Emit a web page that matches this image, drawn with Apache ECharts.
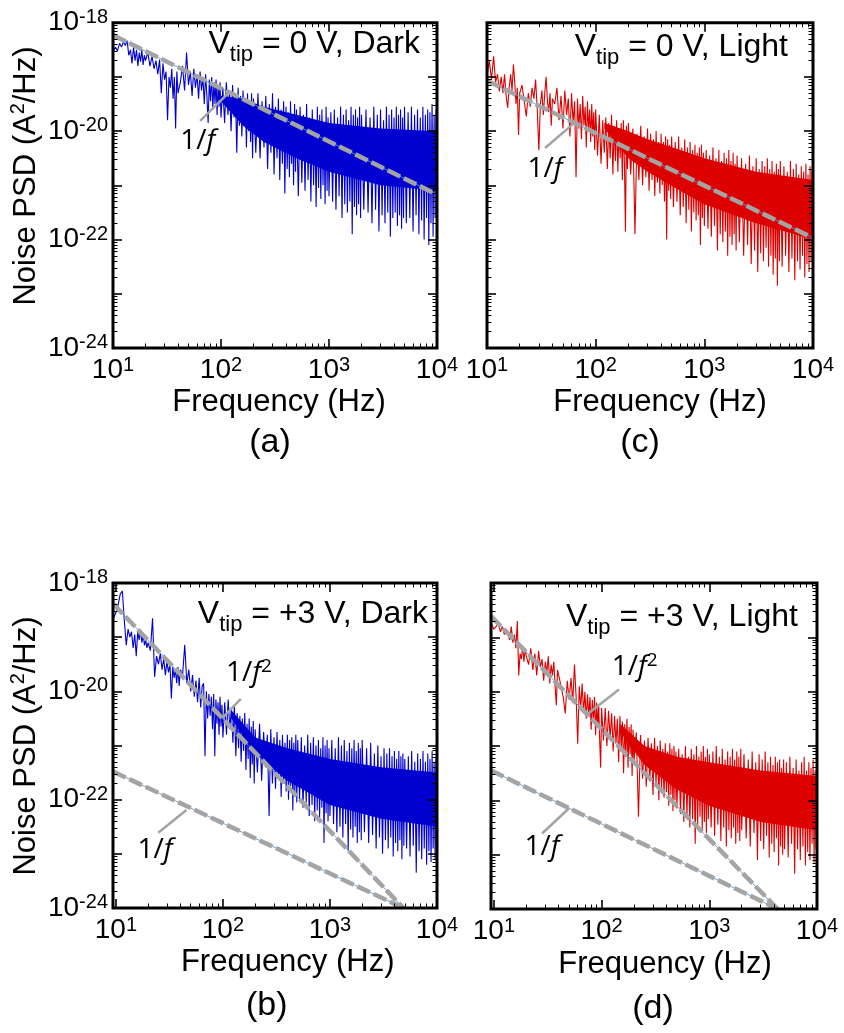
<!DOCTYPE html>
<html><head><meta charset="utf-8">
<script src="https://cdn.jsdelivr.net/npm/echarts@6/dist/echarts.min.js"></script>
<style>html,body{margin:0;padding:0;background:#fff}#c{width:844px;height:1033px}</style>
</head><body><div id="c"></div>
<script>
// ---------------- DATA ----------------
// Frequency bins (Hz) shared by the four spectra
const freqHz = [
  9,9.5,10,10.5,11,11.5,12,12.5,13,13.5,14,14.5,15,15.5,16,16.5,17,17.5,18,18.5,19,19.5,20,
  21,22,23,24,25,26,27,28,29,30,31,32,33,34,35,36,37,38,39,40,
  42,44,46,48,50,52,54,56,58,60,62,64,66,68,70,72,74,76,78,80,82,84,86,88,90,92,94,96,98,100,
  104,108,112,116,120,124,128,132,136,140,144,148,152,156,160,164,168,172,176,180,184,188,192,196,200,
  210,220,230,240,250,260,270,280,290,300,310,320,330,340,350,360,370,380,390,400,410,420,430,440,450,460,470,480,490,500,
  520,540,560,580,600,620,640,660,680,700,720,740,760,780,800,820,840,860,880,900,920,940,960,980,1000,
  1040,1080,1120,1160,1200,1240,1280,1320,1360,1400,1440,1480,1520,1560,1600,1640,1680,1720,1760,1800,1840,1880,1920,1960,2000,
  2100,2200,2300,2400,2500,2600,2700,2800,2900,3000,3100,3200,3300,3400,3500,3600,3700,3800,3900,4000,4100,4200,4300,4400,4500,4600,4700,4800,4900,5000,
  5200,5400,5600,5800,6000,6200,6400,6600,6800,7000,7200,7400,7600,7800,8000,8200,8400,8600,8800,9000,9200,9400,9600,9800,10000
];

// log10 of noise PSD (A^2/Hz) for each frequency bin
// (a) Vtip = 0 V, Dark
const logPsdDark0V = [
  -18.5,-18.4,-18.55,-18.45,-18.52,-18.38,-18.45,-18.35,-18.42,-18.33,-18.6,-18.5,-18.75,-18.45,-18.7,-18.5,-18.8,-18.55,-18.72,-18.5,-18.78,-18.6,-18.7,
  -18.55,-18.8,-18.62,-18.85,-18.7,-18.95,-18.68,-19.3,-18.75,-19.05,-18.9,-19.8,-19.0,-19.2,-18.85,-19.4,-19.0,-19.95,-18.9,-19.3,
  -19.1,-18.8,-19.25,-18.55,-19.15,-18.9,-19.35,-18.85,-19.2,-18.95,-19.4,-18.9,-19.25,-19.0,-19.5,-18.95,-19.35,-19.85,-19.05,-19.45,-19.0,-19.6,-19.1,-19.5,-19.05,-19.7,-19.15,-19.55,-19.1,-19.75,
  -19.2,-19.85,-19.1,-19.7,-19.25,-20.0,-19.15,-19.75,-19.3,-20.4,-19.2,-19.9,-19.35,-20.1,-19.25,-19.85,-19.4,-20.3,-19.3,-20.0,-19.45,-20.2,-19.3,-20.5,-19.4,
  -20.4,-19.3,-20.5,-19.45,-20.3,-19.35,-20.7,-19.5,-20.4,-19.3,-20.8,-19.55,-20.5,-19.4,-20.9,-19.6,-20.6,-19.45,-21.15,-19.55,-20.7,-19.65,-20.85,-19.45,-20.6,-19.7,-21.0,-19.5,-20.75,-19.6,
  -21.2,-19.55,-20.95,-19.7,-21.1,-19.5,-20.9,-19.75,-21.3,-19.6,-21.0,-19.8,-21.4,-19.55,-21.05,-19.7,-21.25,-19.6,-21.0,-19.85,-21.35,-19.55,-21.1,-19.75,-21.2,
  -19.65,-21.3,-19.6,-21.45,-19.75,-21.2,-19.55,-21.6,-19.7,-21.35,-19.6,-21.5,-19.8,-21.3,-19.55,-21.9,-19.7,-21.4,-19.6,-21.55,-19.75,-21.35,-19.55,-21.6,-19.7,
  -21.45,-19.6,-21.5,-19.75,-21.7,-19.55,-21.45,-19.7,-21.85,-19.6,-21.55,-19.8,-21.7,-19.55,-21.5,-19.7,-21.95,-19.6,-21.6,-19.75,-21.5,-19.55,-21.75,-19.7,-21.55,-19.6,-21.8,-19.75,-21.6,-19.55,
  -21.7,-19.65,-21.6,-19.55,-21.85,-19.7,-21.55,-19.6,-21.9,-19.75,-21.65,-19.55,-22.0,-19.7,-21.6,-19.6,-22.1,-19.65,-21.7,-19.5,-21.95,-19.7,-21.6,-19.6,-21.8
];
// (c) Vtip = 0 V, Light
const logPsdLight0V = [
  -19.0,-18.9,-19.0,-18.7,-19.05,-18.62,-19.1,-18.95,-19.27,-19.0,-19.3,-18.95,-19.35,-19.57,-19.2,-18.95,-19.25,-18.77,-19.1,-19.5,-19.2,-20.07,-19.3,
  -19.15,-19.45,-19.73,-19.3,-19.55,-19.2,-19.4,-19.05,-19.6,-20.35,-19.5,-19.25,-19.7,-19.3,-19.0,-19.45,-19.65,-19.3,-19.9,-19.4,
  -19.5,-19.2,-19.8,-19.35,-19.95,-19.25,-19.7,-19.4,-20.1,-19.3,-19.85,-19.45,-20.85,-19.4,-19.95,-19.5,-20.15,-19.35,-19.9,-19.55,-20.3,-19.45,-20.0,-19.6,-20.2,-19.5,-20.1,-19.65,-20.35,-19.6,
  -20.45,-19.7,-20.6,-19.8,-20.4,-19.75,-20.7,-19.85,-20.5,-19.7,-20.8,-19.9,-20.55,-19.8,-20.75,-19.95,-20.5,-19.85,-20.9,-19.8,-20.6,-21.85,-19.9,-20.7,-19.85,
  -20.8,-19.95,-21.9,-20.05,-20.9,-19.9,-21.0,-20.1,-20.85,-19.95,-21.1,-20.05,-20.9,-20.15,-21.2,-20.0,-20.95,-20.2,-21.15,-20.05,-21.0,-20.2,-21.3,-20.1,-22.0,-20.15,-21.1,-20.25,-21.25,-20.1,
  -21.4,-20.2,-21.3,-20.1,-21.55,-20.3,-21.4,-20.15,-21.7,-20.3,-21.45,-20.2,-21.85,-20.35,-21.5,-20.25,-21.65,-20.4,-21.55,-20.3,-22.1,-20.25,-21.6,-20.4,-21.75,
  -20.35,-21.8,-20.45,-21.95,-20.3,-21.75,-20.5,-22.2,-20.35,-21.9,-20.55,-22.05,-20.4,-21.85,-20.5,-22.3,-20.35,-21.95,-20.55,-22.1,-20.4,-21.9,-20.6,-22.2,-20.45,
  -22.05,-20.5,-22.3,-20.6,-22.1,-20.45,-22.45,-20.65,-22.2,-20.5,-22.6,-20.7,-22.25,-20.55,-22.4,-20.65,-22.15,-20.5,-22.5,-20.7,-22.3,-20.55,-22.65,-20.75,-22.35,-20.6,-22.85,-20.7,-22.4,-20.55,
  -22.5,-20.65,-22.3,-20.75,-22.6,-20.55,-22.35,-20.7,-22.75,-20.6,-22.4,-20.8,-22.55,-20.65,-22.3,-20.75,-22.7,-20.6,-22.45,-20.8,-22.6,-20.65,-22.4,-20.7,-22.55
];
// (b) Vtip = +3 V, Dark
const logPsdDark3V = [
  -18.6,-18.65,-18.55,-18.4,-18.2,-18.15,-18.7,-19.15,-18.85,-19.0,-18.9,-19.2,-18.95,-19.35,-18.9,-19.05,-18.87,-19.1,-18.95,-19.15,-19.05,-19.2,-19.1,
  -19.25,-18.65,-19.73,-19.35,-19.5,-19.3,-19.6,-19.4,-19.7,-19.45,-19.65,-19.5,-20.13,-19.55,-19.75,-19.6,-19.85,-19.55,-19.9,-19.6,
  -19.7,-19.14,-19.85,-19.6,-20.0,-19.7,-20.1,-19.8,-20.2,-19.75,-20.3,-19.9,-19.85,-21.2,-20.0,-20.5,-20.05,-20.45,-20.1,-20.7,-20.05,-21.2,-20.15,-20.6,-20.2,-20.8,-20.1,-20.65,-20.25,-20.85,
  -20.2,-20.8,-20.15,-20.7,-20.3,-20.95,-20.25,-21.2,-20.4,-21.05,-20.45,-21.3,-20.5,-21.1,-20.4,-21.45,-20.6,-21.25,-20.5,-21.6,-20.65,-21.35,-20.55,-21.7,-20.7,
  -21.5,-20.6,-21.65,-20.75,-21.4,-20.8,-22.3,-20.7,-21.7,-20.85,-21.8,-20.75,-21.6,-20.9,-21.95,-20.8,-21.7,-20.95,-21.85,-20.8,-22.0,-20.9,-21.75,-20.85,-22.2,-20.95,-21.9,-20.8,-22.05,-20.9,
  -22.0,-20.85,-22.15,-21.0,-22.05,-20.8,-22.3,-20.95,-22.1,-20.85,-22.4,-21.0,-22.2,-20.9,-22.35,-21.05,-22.15,-20.85,-22.8,-21.0,-22.25,-20.9,-22.4,-21.05,-22.3,
  -20.9,-22.45,-21.05,-22.6,-20.85,-22.5,-21.0,-22.7,-20.9,-22.45,-21.1,-22.95,-20.95,-22.55,-21.05,-22.7,-20.9,-22.5,-21.1,-22.8,-20.95,-22.6,-21.05,-22.75,-20.9,
  -22.6,-21.05,-22.8,-20.95,-22.65,-21.15,-22.9,-21.0,-22.7,-21.2,-23.0,-21.05,-22.75,-21.15,-22.9,-21.05,-22.7,-21.2,-23.05,-21.1,-22.8,-21.25,-22.95,-21.1,-22.75,-21.2,-23.1,-21.15,-22.85,-21.25,
  -22.9,-21.2,-23.05,-21.1,-22.85,-21.3,-23.35,-21.15,-22.95,-21.25,-23.1,-21.1,-22.9,-21.3,-23.2,-21.15,-22.95,-21.25,-23.15,-21.1,-22.9,-21.3,-23.1,-21.2,-22.95
];
// (d) Vtip = +3 V, Light
const logPsdLight3V = [
  -18.8,-18.75,-18.85,-18.8,-18.75,-18.9,-18.8,-18.95,-18.85,-18.9,-19.05,-18.8,-19.1,-18.95,-19.2,-18.7,-19.7,-19.3,-19.4,-19.15,-19.45,-19.2,-19.35,
  -19.5,-19.2,-19.6,-19.3,-19.7,-19.25,-19.55,-19.4,-19.8,-19.45,-19.65,-19.35,-19.85,-19.5,-19.7,-19.45,-19.9,-20.25,-19.6,-19.7,
  -19.9,-20.1,-20.4,-19.8,-20.15,-19.75,-20.2,-19.5,-20.1,-20.96,-19.9,-20.3,-19.85,-20.4,-20.0,-20.5,-20.05,-20.45,-20.1,-20.7,-20.15,-20.55,-20.1,-20.8,-20.2,-20.65,-20.25,-20.9,-21.4,-20.3,
  -20.9,-20.3,-21.0,-20.35,-20.85,-20.4,-21.1,-20.45,-20.95,-20.5,-21.3,-20.45,-21.05,-20.55,-21.5,-20.6,-21.2,-20.5,-21.4,-20.65,-21.15,-20.6,-21.55,-20.7,-21.3,
  -20.75,-22.3,-20.8,-21.6,-20.9,-21.75,-20.85,-21.65,-20.95,-21.9,-20.85,-21.7,-21.0,-22.0,-20.9,-21.8,-21.05,-21.95,-20.95,-21.85,-21.1,-22.1,-20.95,-21.9,-21.05,-22.2,-21.0,-22.0,-21.1,-22.15,
  -21.05,-22.25,-21.15,-22.4,-21.0,-22.3,-21.2,-22.5,-21.05,-22.35,-21.15,-22.8,-21.0,-22.45,-21.2,-22.3,-21.1,-22.55,-21.0,-22.4,-21.2,-22.6,-21.05,-22.35,-21.15,
  -22.5,-21.1,-22.65,-21.0,-22.45,-21.2,-22.75,-21.05,-22.5,-21.25,-22.85,-21.1,-22.55,-21.2,-22.7,-21.05,-22.5,-21.25,-22.8,-21.1,-22.6,-21.2,-22.75,-21.05,-22.55,
  -21.15,-22.7,-21.25,-22.85,-21.1,-22.6,-21.3,-23.1,-21.15,-22.75,-21.25,-22.9,-21.1,-22.65,-21.3,-23.05,-21.2,-22.8,-21.35,-22.95,-21.2,-22.7,-21.3,-23.2,-21.25,-22.85,-21.4,-23.0,-21.25,-22.9,
  -21.3,-23.05,-21.2,-22.8,-21.4,-23.35,-21.25,-22.9,-21.45,-23.1,-21.3,-22.85,-21.2,-23.2,-21.45,-22.95,-21.3,-23.1,-21.4,-22.8,-21.25,-23.15,-21.45,-22.9,-21.3
];

// Solid core of the dense high-frequency noise band: [frequency Hz, upper log10 PSD, lower log10 PSD]
const coreDark0V  = [[100, -19.35, -19.45], [160, -19.4, -19.9], [250, -19.55, -20.2], [500, -19.7, -20.5], [1000, -19.85, -20.75], [3000, -19.95, -21.0], [10000, -20.0, -21.1]];
const coreLight0V = [[120, -19.85, -19.95], [200, -20.0, -20.5], [300, -20.15, -20.75], [600, -20.35, -21.1], [1000, -20.5, -21.35], [3000, -20.75, -21.7], [10000, -20.9, -22.0]];
const coreDark3V  = [[120, -20.35, -20.5], [200, -20.85, -21.15], [400, -21.05, -21.65], [1000, -21.25, -22.1], [3000, -21.4, -22.35], [10000, -21.5, -22.5]];
const coreLight3V = [[150, -20.6, -20.75], [250, -21.0, -21.35], [500, -21.2, -21.8], [1000, -21.3, -22.1], [3000, -21.45, -22.4], [10000, -21.55, -22.55]];

// Fitted power-law guide lines: [frequency Hz, log10 PSD]
const fitDark0V_1f  = [[10, -18.23], [10000, -21.17]];
const fitLight0V_1f = [[10, -19.07], [10000, -21.97]];
const fitDark3V_1f2 = [[9.4, -18.38], [4850, -24.0]];
const fitDark3V_1f  = [[9.4, -21.48], [4850, -24.0]];
const fitLight3V_1f2 = [[9.4, -18.61], [4315, -24.0]];
const fitLight3V_1f  = [[9.4, -21.45], [4315, -24.0]];

// Tick values
const xMajorHz = [10, 100, 1000, 10000];
const yMajorExp = [-24, -23, -22, -21, -20, -19, -18];
const yLabelExp = [-24, -22, -20, -18];

// Annotation anchors: [frequency Hz, log10 PSD]
const annotations = [
  {p:0, label:'1/f',  text:[61, -20.18],  from:[64, -19.81], to:[121, -19.27]},
  {p:1, label:'1/f',  text:[34.2, -20.69], from:[34.2, -20.31], to:[67, -19.81]},
  {p:2, label:'1/f2', text:[175, -19.67], from:[99, -20.49], to:[147, -20.14]},
  {p:2, label:'1/f',  text:[23.2, -22.93], from:[24.9, -22.61], to:[45.6, -22.19]},
  {p:3, label:'1/f2', text:[203, -19.55], from:[71, -20.44], to:[145, -19.96]},
  {p:3, label:'1/f',  text:[27.9, -22.86], from:[28, -22.61], to:[49.6, -22.15]}
];

// ---------------- CHART ----------------
const FONT = '"Liberation Sans", Arial, Helvetica, sans-serif';
const ANNO_FONT = '"Open Sans", "Liberation Sans", sans-serif';
const pw = e => Math.pow(10, e);

const panels = [
  {grid:{left:113, top:22.7, width:324, height:325.3}, xMin:10,  color:'#0000d0', data:logPsdDark0V,  core:coreDark0V,  fits:[fitDark0V_1f],  yLabels:true,
   title:' = 0 V, Dark', titleRight:420, titleY:44, xTitle:[279, 402.3], yTitle:[26.5, 176], tag:'(a)', tagPos:[270, 443]},
  {grid:{left:487, top:22.7, width:326, height:325.3}, xMin:10,  color:'#dd0000', data:logPsdLight0V, core:coreLight0V, fits:[fitLight0V_1f], yLabels:false,
   title:' = 0 V, Light', titleRight:788, titleY:46.7, xTitle:[660, 402.3], yTitle:null, tag:'(c)', tagPos:[640, 443]},
  {grid:{left:113, top:583, width:324, height:325}, xMin:9.4, color:'#0000d0', data:logPsdDark3V,  core:coreDark3V,  fits:[fitDark3V_1f2, fitDark3V_1f], yLabels:true,
   title:' = +3 V, Dark', titleRight:428, titleY:614, xTitle:[287.7, 962.3], yTitle:[26.5, 746], tag:'(b)', tagPos:[266.7, 1006]},
  {grid:{left:491, top:583, width:326, height:326}, xMin:9.4, color:'#dd0000', data:logPsdLight3V, core:coreLight3V, fits:[fitLight3V_1f2, fitLight3V_1f], yLabels:false,
   title:' = +3 V, Light', titleRight:798, titleY:616.7, xTitle:[665, 964], yTitle:null, tag:'(d)', tagPos:[653, 1009]}
];

const xMinorHz = [];
for (let d = 1; d <= 1000; d *= 10) for (let k = 2; k <= 9; k++) xMinorHz.push(k * d);
const yMajor = yMajorExp.map(pw);
const yLabelVals = yLabelExp.map(pw);
const yMinor = [];
for (let e = -24; e < -18; e++) for (let k = 2; k <= 9; k++) yMinor.push(k * Math.pow(10, e));

const tickRich = {
  b: {fontFamily: FONT, fontSize: 28, lineHeight: 31, color: '#000'},
  s: {fontFamily: FONT, fontSize: 20, lineHeight: 19, verticalAlign: 'top', color: '#000'}
};
const powLabel = v => '{b|10}{s|' + Math.round(Math.log10(v)) + '}';

const grids = [], xAxes = [], yAxes = [], series = [];
const traceSeriesIndex = [];

panels.forEach((p, i) => {
  grids.push(Object.assign({show: true, borderWidth: 3, borderColor: '#000', backgroundColor: 'transparent', z: 10}, p.grid));
  [['bottom', true], ['bottom', false], ['top', true], ['top', false]].forEach(([pos, major]) => {
    xAxes.push({
      type: 'log', logBase: 10, gridIndex: i, position: pos, min: p.xMin, max: 10000, z: 11,
      axisLine: {show: false, onZero: false},
      splitLine: {show: false},
      axisTick: {show: true, inside: true, length: major ? 9 : 4.5, customValues: major ? xMajorHz : xMinorHz,
                 lineStyle: {color: '#000', width: major ? 1.6 : 1}},
      axisLabel: {show: major && pos === 'bottom', customValues: xMajorHz, margin: 7, formatter: powLabel, rich: tickRich}
    });
  });
  [['left', true], ['left', false], ['right', true], ['right', false]].forEach(([pos, major]) => {
    yAxes.push({
      type: 'log', logBase: 10, gridIndex: i, position: pos, min: 1e-24, max: 1e-18, z: 11,
      axisLine: {show: false, onZero: false},
      splitLine: {show: false},
      axisTick: {show: true, inside: true, length: major ? 9 : 4.5, customValues: major ? yMajor : yMinor,
                 lineStyle: {color: '#000', width: major ? 1.6 : 1}},
      axisLabel: {show: p.yLabels && major && pos === 'left', customValues: yLabelVals, margin: 5, formatter: powLabel, rich: tickRich}
    });
  });
  // solid core of the noise band
  const coreRows = p.core.map(([f, hi, lo]) => [f, pw(hi), pw(lo)]);
  series.push({
    type: 'custom', xAxisIndex: 4 * i, yAxisIndex: 4 * i, silent: true, clip: true, z: 2,
    data: coreRows, encode: {x: 0, y: [1, 2]},
    renderItem: (params, api) => {
      if (params.dataIndex !== 0) return null;
      const top = coreRows.map(r => api.coord([r[0], r[1]]));
      const bot = coreRows.map(r => api.coord([r[0], r[2]])).reverse();
      return {type: 'polygon', shape: {points: top.concat(bot)}, style: {fill: p.color}};
    }
  });
  traceSeriesIndex.push(series.length);
  series.push({
    type: 'line', xAxisIndex: 4 * i, yAxisIndex: 4 * i, silent: true, clip: true,
    symbol: 'none', showSymbol: false, z: 2,
    lineStyle: {color: p.color, width: 1.1, join: 'bevel'},
    data: freqHz.map((f, k) => [f, pw(p.data[k])])
  });
  p.fits.forEach(fit => {
    const d = fit.map(([f, e]) => [f, pw(e)]);
    series.push({type: 'line', xAxisIndex: 4 * i, yAxisIndex: 4 * i, silent: true, clip: true, symbol: 'none', z: 3,
      lineStyle: {color: '#5a9ad8', width: 0.9}, data: d});
    series.push({type: 'line', xAxisIndex: 4 * i, yAxisIndex: 4 * i, silent: true, clip: true, symbol: 'none', z: 4,
      lineStyle: {color: '#a4a4a4', width: 4.5, type: [14, 4], cap: 'butt'}, data: d});
  });
  if (p.data.length !== freqHz.length) console.warn('length mismatch', i, p.data.length, freqHz.length);
});

const chart = echarts.init(document.getElementById('c'), null, {renderer: 'canvas'});
chart.setOption({
  animation: false,
  backgroundColor: '#fff',
  textStyle: {fontFamily: FONT},
  grid: grids, xAxis: xAxes, yAxis: yAxes, series: series
});

// ---------------- TEXT / ANNOTATIONS ----------------
const gfx = [];
const titleRich = {
  v: {fontFamily: FONT, fontSize: 32, lineHeight: 44, color: '#000'},
  s: {fontFamily: FONT, fontSize: 22, lineHeight: 22, verticalAlign: 'bottom', color: '#000'}
};
const axTitleRich = {
  m: {fontFamily: FONT, fontSize: 31, lineHeight: 36, color: '#000'},
  s: {fontFamily: FONT, fontSize: 20, lineHeight: 22, verticalAlign: 'top', color: '#000'}
};
panels.forEach(p => {
  gfx.push({type: 'text', z: 50, x: p.titleRight, y: p.titleY, silent: true,
    style: {text: '{v|V}{s|tip}{v|' + p.title + '}', rich: titleRich, align: 'right', verticalAlign: 'middle'}});
  gfx.push({type: 'text', z: 50, x: p.xTitle[0], y: p.xTitle[1], silent: true,
    style: {text: 'Frequency (Hz)', font: '31px ' + FONT, fill: '#000', align: 'center', verticalAlign: 'middle'}});
  if (p.yTitle) gfx.push({type: 'text', z: 50, x: p.yTitle[0], y: p.yTitle[1], rotation: Math.PI / 2, silent: true,
    style: {text: '{m|Noise PSD (A}{s|2}{m|/Hz)}', rich: axTitleRich, align: 'center', verticalAlign: 'middle'}});
  gfx.push({type: 'text', z: 50, x: p.tagPos[0], y: p.tagPos[1], silent: true,
    style: {text: p.tag, font: '34px ' + FONT, fill: '#000', align: 'center', verticalAlign: 'middle'}});
});
const annoRich = {
  n: {fontFamily: ANNO_FONT, fontSize: 28, lineHeight: 32, color: '#939393'},
  i: {fontFamily: ANNO_FONT, fontSize: 28, fontStyle: 'italic', lineHeight: 32, color: '#939393'},
  s: {fontFamily: ANNO_FONT, fontSize: 19, lineHeight: 20, verticalAlign: 'top', color: '#939393'}
};
annotations.forEach(a => {
  const si = {seriesIndex: traceSeriesIndex[a.p]};
  const t = chart.convertToPixel(si, [a.text[0], pw(a.text[1])]);
  const p1 = chart.convertToPixel(si, [a.from[0], pw(a.from[1])]);
  const p2 = chart.convertToPixel(si, [a.to[0], pw(a.to[1])]);
  gfx.push({type: 'line', z: 40, silent: true, shape: {x1: p1[0], y1: p1[1], x2: p2[0], y2: p2[1]},
    style: {stroke: '#a3a3a3', lineWidth: 2.5}});
  const txt = a.label === '1/f2' ? '{n|1/}{i|f}{s|2}' : '{n|1/}{i|f}';
  gfx.push({type: 'text', z: 41, silent: true, x: t[0], y: t[1],
    style: {text: txt, rich: annoRich, align: 'center', verticalAlign: 'middle'}});
});
chart.setOption({graphic: gfx});
</script>
</body></html>
